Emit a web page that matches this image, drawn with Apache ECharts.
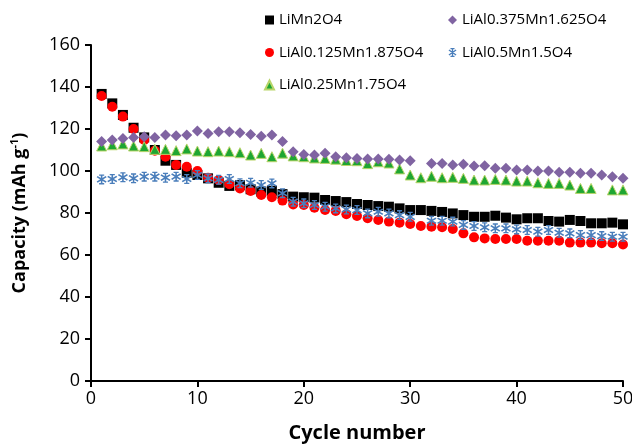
<!DOCTYPE html>
<html>
<head>
<meta charset="utf-8">
<script src="https://cdn.jsdelivr.net/npm/echarts@6/dist/echarts.min.js"></script>
<style>
html,body{margin:0;padding:0;background:#fff;}
#chart{width:632px;height:446px;}
</style>
</head>
<body>
<div id="chart"></div>
<script>
var cycles = [1,2,3,4,5,6,7,8,9,10,11,12,13,14,15,16,17,18,19,20,21,22,23,24,25,26,27,28,29,30,31,32,33,34,35,36,37,38,39,40,41,42,43,44,45,46,47,48,49,50];
var seriesNames = ['LiMn2O4','LiAl0.125Mn1.875O4','LiAl0.25Mn1.75O4','LiAl0.375Mn1.625O4','LiAl0.5Mn1.5O4'];
var liMn2O4 = [136.7,132.2,126.7,120.6,116,110,104.9,102.9,99.2,98.1,96.5,94.4,92.9,93.3,91.3,90.2,90.6,89,87.8,87.5,87.3,86.2,85.7,85.2,84.3,83.8,83.3,83,82.2,81.4,81.4,81,80.5,79.8,79,78.2,78.2,78.7,77.8,77,77.5,77.5,76.2,75.9,76.7,76.2,75.1,75.1,75.4,74.6];
var al0125 = [135.7,130.6,125.9,120,114.8,109.7,106.8,102.9,102,100,96.8,95.7,93.7,91.7,90.5,88.6,87.5,85.9,84.1,83.8,82.5,81.4,81,79.4,78.6,77.5,76.7,75.9,75.4,74.8,73.8,73.5,73.2,72.4,70.3,68.4,67.9,67.6,67.6,67.6,66.8,66.8,66.8,66.8,65.9,65.9,65.9,65.6,65.6,65];
var al025 = [111.9,112.5,112.9,111.9,111.6,110.3,110.3,109.7,110.5,109.5,109.2,109.5,109.2,108.7,107.6,108.4,106.8,108.5,107.2,106.8,106.2,106,105.6,105,104.9,103.5,104.4,103.8,101,98.1,96.8,97.5,96.8,97,96.5,95.7,95.7,96,95.7,95.2,95.2,94.4,94.1,94.1,93.3,91.7,91.7,null,91,91];
var al0375 = [114,114.8,115.5,116,116.3,116,117.1,116.8,117.1,119,117.9,118.7,118.7,118.2,117.4,116.5,117.2,114,109.2,107.9,107.6,108.4,106.8,106.3,106,105.7,105.7,105.6,105.2,104.9,null,103.6,103.6,102.9,103.2,102.4,102.5,101.3,101.3,100.5,100.5,100,100,99.4,99.4,98.9,98.9,98.1,97.3,96.5];
var al05 = [96,96.2,97,96.5,97.3,97.3,96.8,97.3,96.2,98.1,96.5,95.8,96.2,94.2,94.4,93.3,94.1,89.4,85.4,84.6,83.8,83,82.2,81.7,81.4,79.8,80.6,79.8,79,78.2,null,76.3,76.3,75.9,74.3,73.8,73.2,72.7,72.7,72.2,71.9,71.1,71.9,70.6,70.3,69.5,69.5,69,68.7,68.7];
var yTicks = {min:0, max:160, interval:20};
var xTicks = {min:0, max:50, interval:10};

function pairs(ys){ return cycles.map(function(c,i){ return [c, ys[i]]; }); }

var asterisk = 'path://M8.6 0L11.4 0L11.4 20L8.6 20Z M5.5 0L14.5 0L14.5 2.6L5.5 2.6Z M5.5 17.4L14.5 17.4L14.5 20L5.5 20Z M1.2 5.8L2.9 3.3L18.8 14.2L17.1 16.7Z M17.1 3.3L18.8 5.8L2.9 16.7L1.2 14.2Z';
var FONT = 'Open Sans';

var chart = echarts.init(document.getElementById('chart'), null, {renderer:'canvas'});
chart.setOption({
  backgroundColor:'#ffffff',
  animation:false,
  textStyle:{fontFamily:FONT},
  grid:{left:91,right:9,top:45,bottom:65,containLabel:false,outerBoundsMode:'none'},
  legend:[
    {data:[seriesNames[0],seriesNames[1],seriesNames[2]], orient:'vertical', left:264, top:12, padding:0, itemWidth:9, itemHeight:9, itemGap:16.5,
     textStyle:{fontFamily:FONT,fontSize:15,color:'#000',lineHeight:16}},
    {data:[seriesNames[3],seriesNames[4]], orient:'vertical', left:448, top:12, padding:0, itemWidth:9, itemHeight:9, itemGap:16.5,
     textStyle:{fontFamily:FONT,fontSize:15,color:'#000',lineHeight:16}}
  ],
  xAxis:{
    type:'value', min:xTicks.min, max:xTicks.max, interval:xTicks.interval,
    name:'Cycle number', nameLocation:'middle', nameGap:42,
    nameTextStyle:{fontFamily:FONT,fontSize:20,fontWeight:'bold',color:'#000'},
    axisLine:{lineStyle:{color:'#000',width:2}},
    axisTick:{show:true,inside:false,length:6,lineStyle:{color:'#000',width:2}},
    axisLabel:{fontFamily:FONT,fontSize:18,color:'#000',margin:9},
    splitLine:{show:false}
  },
  yAxis:{
    type:'value', min:yTicks.min, max:yTicks.max, interval:yTicks.interval,
    name:'{b|Capacity (mAh g}{s|-1}{b|)}', nameLocation:'middle', nameGap:60,
    nameTextStyle:{fontFamily:FONT,fontSize:18,fontWeight:'bold',color:'#000',
      rich:{b:{fontFamily:FONT,fontSize:18,fontWeight:'bold',color:'#000',lineHeight:22},
            s:{fontFamily:FONT,fontSize:11,fontWeight:'bold',color:'#000',verticalAlign:'top',lineHeight:22,padding:[0,0,9,0]}}},
    axisLine:{show:true,lineStyle:{color:'#000',width:2}},
    axisTick:{show:true,inside:false,length:6,lineStyle:{color:'#000',width:2}},
    axisLabel:{fontFamily:FONT,fontSize:18,color:'#000',margin:11},
    splitLine:{show:false}
  },
  series:[
    {name:seriesNames[0], type:'scatter', symbol:'rect', symbolSize:10, itemStyle:{color:'#000000',opacity:1}, data:pairs(liMn2O4)},
    {name:seriesNames[1], type:'scatter', symbol:'circle', symbolSize:10, itemStyle:{color:'#ff0000',opacity:1}, data:pairs(al0125)},
    {name:seriesNames[2], type:'scatter', symbol:'triangle', symbolSize:10, itemStyle:{color:'#1ea632',borderColor:'#b9d56a',borderWidth:1,opacity:1}, data:pairs(al025)},
    {name:seriesNames[3], type:'scatter', symbol:'diamond', symbolSize:11, itemStyle:{color:'#8064a2',opacity:1}, data:pairs(al0375)},
    {name:seriesNames[4], type:'scatter', symbol:asterisk, symbolSize:10, itemStyle:{color:'#4a7ebb',opacity:1}, data:pairs(al05)}
  ]
});
</script>
</body>
</html>
